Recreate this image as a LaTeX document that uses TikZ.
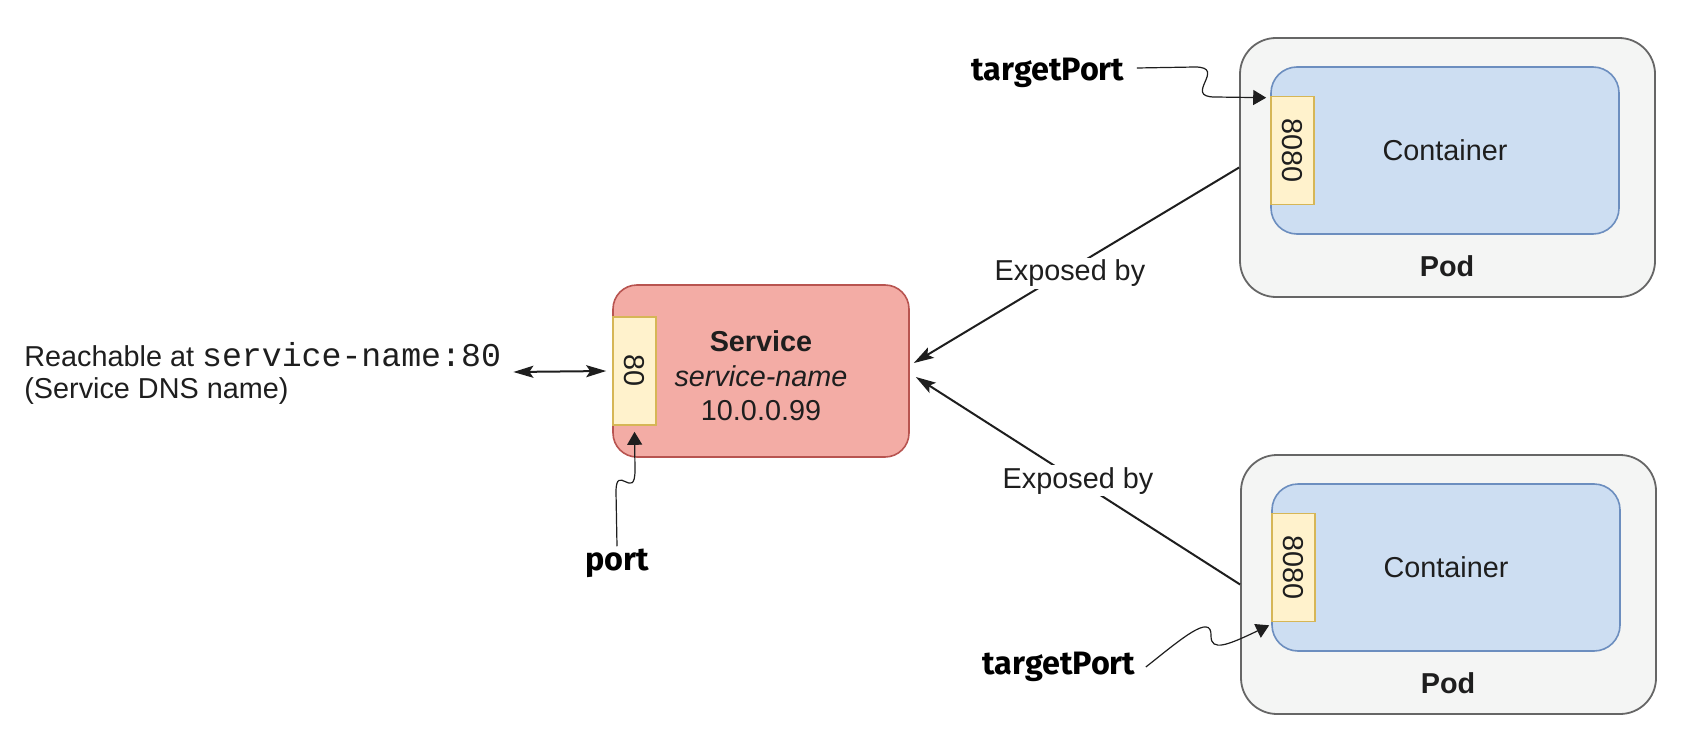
\documentclass[tikz,border=0pt]{standalone}
\usepackage{fontspec}
\setmainfont{Liberation Sans}
\setmonofont{Liberation Mono}
\newfontfamily\notefont{Fira Sans}
\usetikzlibrary{arrows.meta, shapes, positioning, fit}

\definecolor{txt}{HTML}{1E1E1E}
\definecolor{svcfill}{HTML}{F3ACA5}
\definecolor{svcline}{HTML}{B85450}
\definecolor{portfill}{HTML}{FFF2CC}
\definecolor{portline}{HTML}{D6B656}
\definecolor{contfill}{HTML}{CDDEF2}
\definecolor{contline}{HTML}{6C8EBF}
\definecolor{podfill}{HTML}{F4F5F4}
\definecolor{podline}{HTML}{666666}

\begin{document}
\begin{tikzpicture}[x=0.5pt, y=-0.5pt,
	every node/.style={font=\fontsize{14.4}{16}\selectfont, text=txt},
	pod/.style={draw=podline, fill=podfill, line width=0.9pt, rounded corners=18pt,
		minimum width=207.5pt, minimum height=129.5pt},
	container/.style={draw=contline, fill=contfill, line width=0.8pt, rounded corners=13pt,
		minimum width=174pt, minimum height=83.5pt},
	service/.style={draw=svcline, fill=svcfill, line width=0.8pt, rounded corners=12pt,
		minimum width=148pt, minimum height=86pt},
	portbox/.style={draw=portline, fill=portfill, line width=0.8pt, inner sep=0pt,
		minimum width=21.5pt, minimum height=54pt, anchor=west},
	note/.style={font=\notefont\bfseries\fontsize{16.2}{16}\selectfont, text=black, inner sep=1pt},
	classic/.tip={Stealth[length=10pt,width=6pt,inset=2pt]},
	edge/.style={draw=txt, line width=1pt, -classic},
	wiggle/.style={draw=txt, line width=0.6pt, -{Triangle[length=6.5pt,width=7.5pt]}},
	lbl/.style={fill=white, inner sep=1pt}]
	\useasboundingbox (0,0) rectangle (1707,738);

	% pods with their containers
	\node[pod] (pod1) at (1447.5,167.5) {};
	\node[container] (cont1) at (1445,150.5) {Container};
	\node[portbox] (port1) at (cont1.west) {\rotatebox{-90}{8080}};
	\node[font=\bfseries\fontsize{14.4}{16}\selectfont] (podlbl1) at (1447,266) {Pod};

	\node[pod] (pod2) at (1448.5,584.5) {};
	\node[container] (cont2) at (1446,567.5) {Container};
	\node[portbox] (port2) at (cont2.west) {\rotatebox{-90}{8080}};
	\node[font=\bfseries\fontsize{14.4}{16}\selectfont] (podlbl2) at (1448,683) {Pod};

	% service
	\node[service] (svc) at (761,371) {};
	\node[align=center, font=\fontsize{14.4}{17.25}\selectfont] (svctxt) at (761,376)
		{\textbf{Service}\\\textit{service-name}\\10.0.0.99};
	\node[portbox] (port80) at (svc.west) {\rotatebox{-90}{80}};

	\node[align=left, anchor=west, inner sep=0pt] (reach) at (24,373)
		{Reachable at {\fontsize{16.6}{16}\selectfont\ttfamily service-name:80}\\(Service DNS name)};
	\draw[edge, classic-classic] ([xshift=6pt,yshift=0.5pt]reach.east) -- ([xshift=-3pt]port80.west);

	\draw[edge] (pod1.west) -- node[lbl, pos=0.52, yshift=-2pt] {Exposed by} ([xshift=2pt,yshift=4pt]svc.east);
	\draw[edge] (pod2.west) -- node[lbl] {Exposed by} ([xshift=3pt,yshift=-3pt]svc.east);

	% port callouts
	\node[note] (portlbl) at (617,563) {port};
	\node[note] (tp1) at (1048,73) {targetPort};
	\node[note] (tp2) at (1059,667) {targetPort};

	\draw[wiggle] (portlbl.north) -- (616,492) .. controls (616,462) and (635,502) .. (635,470)
		-- ([yshift=-3pt]port80.south);
	\draw[wiggle] ([xshift=5pt,yshift=2.5pt]tp1.east) -- (1195,67) .. controls (1228,67) and (1182,97) .. (1215,97)
		-- ([xshift=-2pt,yshift=-1pt]port1.north west);
	\draw[wiggle] ([xshift=4pt]tp2.east) .. controls (1180,640) and (1212,612) .. (1211,636)
		.. controls (1211,652) and (1228,645) .. ([xshift=-1pt,yshift=-1.5pt]port2.south west);
\end{tikzpicture}
\end{document}
